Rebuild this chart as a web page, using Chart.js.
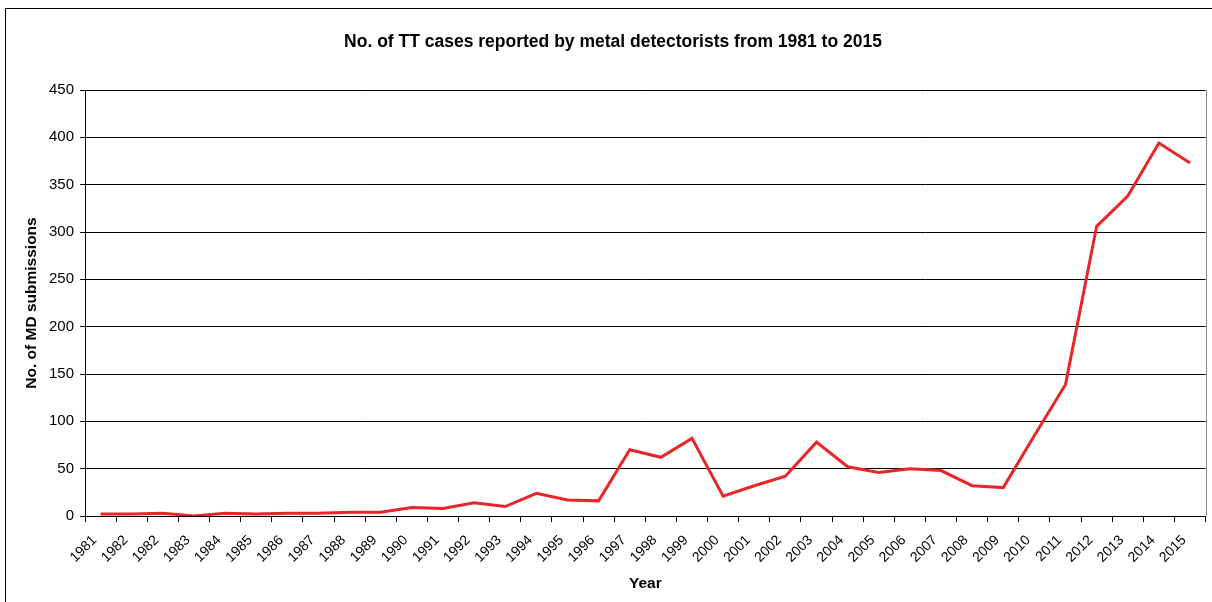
<!DOCTYPE html>
<html>
<head>
<meta charset="utf-8">
<script src="https://cdn.jsdelivr.net/npm/chart.js@4/dist/chart.umd.min.js"></script>
<style>
  html, body { margin: 0; padding: 0; background: #fff; }
  #wrap { width: 1212px; height: 602px; position: relative; }
</style>
</head>
<body>
<div id="wrap"><canvas id="c" width="1212" height="602"></canvas></div>
<script>
const years = ["1981","1982","1982","1983","1984","1985","1986","1987","1988","1989","1990","1991","1992","1993","1994","1995","1996","1997","1998","1999","2000","2001","2002","2003","2004","2005","2006","2007","2008","2009","2010","2011","2012","2013","2014","2015"];
const mdSubmissions = [2,2,3,0,3,2,3,3,4,4,9,8,14,10,24,17,16,70,62,82,21,32,42,78,52,46,50,48,32,30,85,139,306,338,394,373];
const yTicks = [0,50,100,150,200,250,300,350,400,450];
const titleText = "No. of TT cases reported by metal detectorists from 1981 to 2015";
const yTitle = "No. of MD submissions";
const xTitle = "Year";

const FONT = "'Liberation Sans', Arial, sans-serif";

const framePlugin = {
  id: 'frame',
  beforeDraw(chart) {
    const ctx = chart.ctx;
    ctx.save();
    ctx.fillStyle = '#fff';
    ctx.fillRect(0, 0, chart.width, chart.height);
    ctx.strokeStyle = '#000';
    ctx.lineWidth = 1;
    ctx.strokeRect(5.5, 8.5, chart.width + 10, chart.height + 10);
    ctx.restore();
  },
  afterDatasetsDraw(chart) {
    const ctx = chart.ctx, a = chart.chartArea;
    ctx.save();
    ctx.strokeStyle = '#888';
    ctx.lineWidth = 1;
    ctx.beginPath();
    ctx.moveTo(Math.round(a.right) + 0.5, a.top);
    ctx.lineTo(Math.round(a.right) + 0.5, a.bottom);
    ctx.stroke();
    ctx.restore();
  }
};

new Chart(document.getElementById('c'), {
  type: 'line',
  data: {
    labels: years,
    datasets: [{
      data: mdSubmissions,
      borderColor: '#e8262a',
      backgroundColor: '#e8262a',
      borderWidth: 3,
      pointRadius: 0,
      tension: 0,
      fill: false
    }]
  },
  options: {
    responsive: false,
    animation: false,
    devicePixelRatio: 1,
    layout: { padding: { left: 20, right: 6, top: 0, bottom: 0 } },
    plugins: {
      legend: { display: false },
      tooltip: { enabled: false },
      title: {
        display: true,
        text: titleText,
        color: '#000',
        font: { family: FONT, size: 17.5, weight: 'bold' },
        padding: { top: 31.5, bottom: 37.5 }
      }
    },
    scales: {
      x: {
        offset: true,
        grid: { offset: true, drawOnChartArea: false, color: '#000', tickLength: 6, tickColor: '#000' },
        border: { color: '#000', width: 1 },
        ticks: {
          color: '#000',
          font: { family: FONT, size: 14 },
          maxRotation: 45, minRotation: 45,
          autoSkip: false,
          padding: 10,
          labelOffset: -6
        },
        title: {
          display: true, text: xTitle, color: '#000',
          font: { family: FONT, size: 15.5, weight: 'bold' },
          padding: { top: 0, bottom: 8.5 }
        },
        afterFit(s) { s.height = 86; }
      },
      y: {
        min: 0, max: 450,
        afterBuildTicks(s) { s.ticks = yTicks.map(v => ({ value: v })); },
        grid: { color: '#000', lineWidth: 1, tickLength: 5, tickColor: '#000' },
        border: { color: '#000', width: 1 },
        ticks: {
          color: '#000',
          font: { family: FONT, size: 15 },
          padding: 6
        },
        title: {
          display: true, text: yTitle, color: '#000',
          font: { family: FONT, size: 15.5, weight: 'bold' },
          padding: { top: 2, bottom: 0 }
        },
        afterFit(s) { s.width = 65; }
      }
    }
  },
  plugins: [framePlugin]
});
</script>
</body>
</html>
